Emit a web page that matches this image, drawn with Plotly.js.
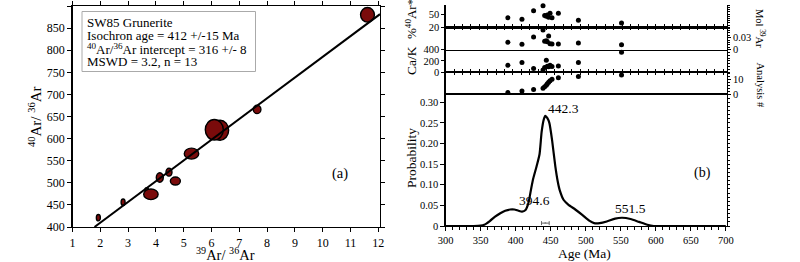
<!DOCTYPE html>
<html><head><meta charset="utf-8">
<script src="https://cdn.plot.ly/plotly-3.0.1.min.js"></script>
<style>html,body{margin:0;padding:0;background:#fff}#chart{width:800px;height:262px}</style>
</head><body><div id="chart"></div>
<script>
// ---------- (a) isochron data ----------
const isoX    = [1.93, 2.82, 3.67, 3.82, 4.14, 4.47, 4.70, 5.28, 6.31, 6.10, 7.64, 11.61];
const isoY    = [421, 456, 484, 474, 512, 524, 504, 566, 619, 620, 666, 880];
const isoErrX = [0.072, 0.072, 0.065, 0.26, 0.126, 0.108, 0.18, 0.26, 0.306, 0.324, 0.137, 0.25];
const isoErrY = [7.2, 7.2, 5, 12, 10.6, 9, 9, 12.4, 22.6, 23.3, 9.5, 16.5];
const isoIntercept = 316;
const isoSlope = 46.9;
const isoXTicks = [1,2,3,4,5,6,7,8,9,10,11,12];
const isoYTicks = [400,450,500,550,600,650,700,750,800,850,900];
const isoInfo = ["SW85 Grunerite", "Isochron age = 412 +/-15 Ma",
  "<sup>40</sup>Ar/<sup>36</sup>Ar intercept = 316 +/- 8", "MSWD = 3.2, n = 13"];

// ---------- (b) step / probability data ----------
const stepAge   = [388.8, 408.9, 425.5, 439.0, 441.3, 443.7, 445.1, 447.0, 449.0, 451.8, 460.9, 489.5, 551.1];
const stepNo    = [1,2,3,4,5,6,7,8,9,10,11,12,13];
const pctAr40   = [42, 38.5, 57.6, 69, 47, 45, 48, 43, 52, 42, 52, 36, 30];
const mol39     = [0.0185, 0.0135, 0.032, 0.049, 0.021, 0.0225, 0.02, 0.034, 0.015, 0.014, 0.014, 0.017, 0.0125];
const caK       = [122, 171, 62, 35, 80, 213, 105, 95, 120, 100, 109, 171, 355];
const probAge = [300,340,350,355,363,370,378,385,392,398,404,409,414,418,422,425,430,434,437,440,442.3,445,448,452,456.6,460,462.8,468.5,475,485,495,505,512,520,530,542,552,564,576,588,597,620,700];
const probVal = [0,0,0.001,0.003,0.012,0.022,0.031,0.037,0.040,0.040,0.037,0.035,0.039,0.055,0.090,0.115,0.146,0.174,0.228,0.258,0.267,0.262,0.250,0.207,0.144,0.108,0.087,0.063,0.052,0.040,0.027,0.013,0.007,0.007,0.011,0.018,0.020,0.017,0.010,0.003,0,0,0];
const peakAge  = [394.6, 442.3, 551.5];
const peakProb = [0.040, 0.267, 0.020];
const meanAge = [442.3], meanErr = [5.5], meanY = [0.007];
const probTicks = [0,0.05,0.10,0.15,0.20,0.25,0.30];
const probTickText = ['0','0.05','0.10','0.15','0.20','0.25','0.30'];
const ageTicks = [300,350,400,450,500,550,600,650,700];

const W=800,H=262;
const fx=p=>p/W, fy=p=>1-p/H;
const font='Liberation Serif, Times New Roman, serif';
const black='#000';
const base = {showgrid:false, zeroline:false, showline:true, linecolor:black, linewidth:1.3,
  tickcolor:black, tickwidth:1, tickfont:{family:font,size:10.5,color:black}};
const X1MAX = 12.06;

const traces = [];
const lx0 = (isoYTicks[0]-isoIntercept)/isoSlope;
traces.push({x:[lx0, X1MAX], y:[isoIntercept+isoSlope*lx0, isoIntercept+isoSlope*X1MAX],
  mode:'lines', line:{color:black,width:2}, xaxis:'x', yaxis:'y', hoverinfo:'skip'});
const dot = {mode:'markers', marker:{color:black,size:5}, hoverinfo:'skip', cliponaxis:false};
traces.push(Object.assign({x:stepAge, y:pctAr40, xaxis:'x2', yaxis:'y2'}, dot));
traces.push(Object.assign({x:stepAge, y:mol39, xaxis:'x3', yaxis:'y3'}, dot));
traces.push(Object.assign({x:stepAge, y:caK, xaxis:'x4', yaxis:'y4'}, dot));
traces.push(Object.assign({x:stepAge, y:stepNo, xaxis:'x5', yaxis:'y5'}, dot));
traces.push({x:probAge, y:probVal, mode:'lines', line:{color:black,width:2.2,shape:'spline',smoothing:0.6},
  xaxis:'x6', yaxis:'y6', hoverinfo:'skip'});
traces.push({x:meanAge, y:meanY, mode:'markers', marker:{color:'#888',size:2},
  error_x:{type:'data', array:meanErr, color:'#666', thickness:1, width:2},
  xaxis:'x6', yaxis:'y6', hoverinfo:'skip'});
traces.push({x:[], y:[], xaxis:'x2', yaxis:'y7', hoverinfo:'skip'});
traces.push({x:[], y:[], xaxis:'x4', yaxis:'y8', hoverinfo:'skip'});
traces.push({x:[], y:[], xaxis:'x6', yaxis:'y9', hoverinfo:'skip'});

const shapes = isoX.map((x,i)=>({type:'circle', xref:'x', yref:'y',
  x0:x-isoErrX[i], x1:x+isoErrX[i], y0:isoY[i]-isoErrY[i], y1:isoY[i]+isoErrY[i],
  fillcolor:'#7a0b0b', line:{color:black,width:1.4}, layer:'below'}));
shapes.push({type:'rect', xref:'paper', yref:'paper', x0:fx(82), x1:fx(255.5), y0:fy(71.5), y1:fy(11.5),
  line:{color:'#aaaaaa',width:1}, fillcolor:'rgba(0,0,0,0)'});

const ann = [];
const A = (text,px,py,size,extra)=>ann.push(Object.assign({text, x:fx(px), y:fy(py), xref:'paper', yref:'paper',
  showarrow:false, font:{family:font,size,color:black}, xanchor:'center', yanchor:'middle'}, extra||{}));
const infoY=[22.5,35.5,49,61.7];
isoInfo.forEach((t,i)=>A(t,85,infoY[i],13,{xanchor:'left'}));
A('(a)',340,173,14.5);
A('<sup>40</sup>Ar/ <sup>36</sup>Ar',35,117,15,{textangle:-90});
A('<sup>39</sup>Ar/ <sup>36</sup>Ar',225,265,14.5,{yanchor:'bottom'});
A('(b)',702,173,14);
A('Probability',411,158,13.5,{textangle:-90});
A('Age (Ma)',584,262.5,13.5,{yanchor:'bottom'});
A('%<sup>40</sup>Ar*',411,19,13,{textangle:-90});
A('Ca/K',411,61,13.5,{textangle:-90});
A('Mol <sup>39</sup>Ar',760,28,10.5,{textangle:90});
A('Analysis #',760,84.5,10.5,{textangle:90});
const pshift=[[23,9],[18,7],[9,9.5]];
peakAge.forEach((a,i)=>ann.push({text:String(a), x:a, y:peakProb[i], xref:'x6', yref:'y6', showarrow:false,
  xshift:pshift[i][0], yshift:pshift[i][1], font:{family:font,size:13.5,color:black}, xanchor:'center', yanchor:'middle'}));

const xr2=[300,701];
const xd2=[fx(445.7),fx(726.5)];
const sepAx = (anchor, side, mirror)=>Object.assign({}, base, {domain:xd2, range:xr2, anchor, side, mirror,
  ticks:'inside', ticklen:3, tick0:300, dtick:12, showticklabels:false});
const ovl = (over, anchor, range, dtick)=>({overlaying:over, side:'right', anchor, range, dtick, ticks:'outside',
  ticklen:2.5, tickcolor:black, showline:false, showticklabels:false, showgrid:false, zeroline:false});

const layout = {
  width:W, height:H, margin:{l:0,r:0,t:0,b:0}, paper_bgcolor:'#fff', plot_bgcolor:'rgba(0,0,0,0)',
  showlegend:false, shapes, annotations:ann,
  xaxis:Object.assign({}, base, {domain:[fx(72.5),fx(380)], range:[1,X1MAX], anchor:'y', tickvals:isoXTicks,
    ticks:'outside', ticklen:4, mirror:'ticks', tickfont:{family:font,size:12,color:black}}),
  yaxis:Object.assign({}, base, {domain:[fy(227),fy(6)], range:[400,900], anchor:'x', tickvals:isoYTicks,
    ticks:'outside', ticklen:4, mirror:'ticks', tickfont:{family:font,size:12,color:black}}),
  xaxis2:sepAx('y2','bottom',false),
  xaxis3:sepAx('y3','top',true),
  xaxis4:sepAx('y4','bottom',false),
  xaxis5:sepAx('y5','top',true),
  xaxis6:Object.assign({}, base, {domain:xd2, range:xr2, anchor:'y6', side:'bottom', mirror:true,
    tickvals:ageTicks, ticks:'outside', ticklen:4, minor:{dtick:10, tick0:300, ticklen:2.5, ticks:'outside', tickcolor:black}}),
  yaxis2:Object.assign({}, base, {domain:[fy(27.3),fy(4.5)], range:[20,72], anchor:'x2', side:'left', mirror:true,
    tickvals:[20,50], ticks:'outside', ticklen:3}),
  yaxis3:Object.assign({}, base, {domain:[fy(49.7),fy(27.3)], range:[0,0.056], anchor:'x3', side:'right', mirror:true,
    tickvals:[0,0.03], ticktext:['0','0.03'], ticks:'outside', ticklen:3, minor:{dtick:0.006, ticklen:2.5, ticks:'outside', tickcolor:black}}),
  yaxis4:Object.assign({}, base, {domain:[fy(72),fy(49.7)], range:[0,400], anchor:'x4', side:'left', mirror:true,
    tickvals:[0,200,400], ticks:'outside', ticklen:3}),
  yaxis5:Object.assign({}, base, {domain:[fy(94),fy(72)], range:[0,15], anchor:'x5', side:'right', mirror:true,
    tickvals:[0,10], ticks:'outside', ticklen:3, minor:{dtick:2, ticklen:2.5, ticks:'outside', tickcolor:black}}),
  yaxis6:Object.assign({}, base, {domain:[fy(226),fy(94)], range:[0,0.32], anchor:'x6', side:'left', mirror:true,
    tickvals:probTicks, ticktext:probTickText, ticks:'outside', ticklen:4}),
  yaxis7:ovl('y2','x2',[20,72],5),
  yaxis8:ovl('y4','x4',[0,400],50),
  yaxis9:ovl('y6','x6',[0,0.32],0.01)
};
Plotly.newPlot('chart', traces, layout, {staticPlot:true});
</script></body></html>
